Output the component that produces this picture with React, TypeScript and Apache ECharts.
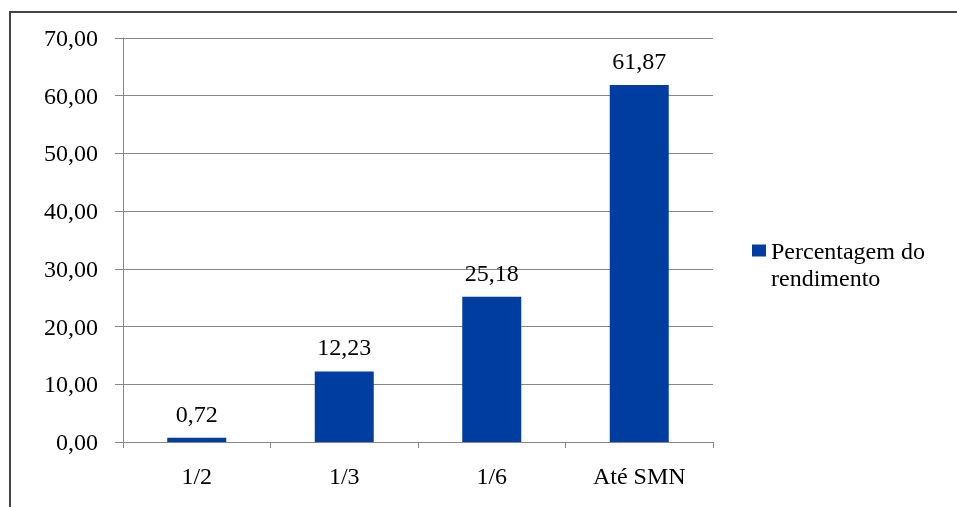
import React, { useEffect, useRef } from "react";
import * as echarts from "echarts";

const categories = ["1/2", "1/3", "1/6", "Até SMN"];
const values = [0.72, 12.23, 25.18, 61.87];
const seriesName = "Percentagem do rendimento";
const yMin = 0;
const yMax = 70;
const yInterval = 10;

const fmt = (v: number) => v.toFixed(2).replace(".", ",");

export default function App() {
  const ref = useRef<HTMLDivElement>(null);
  useEffect(() => {
    if (!ref.current) return;
    const chart = echarts.init(ref.current, null, { renderer: "svg" });
    const font = "Liberation Serif";
    const fs = 24;
    chart.setOption({
      animation: false,
      grid: { left: 123, right: 244, top: 38, bottom: 65 },
      legend: {
        left: 752,
        top: 237,
        padding: 0,
        orient: "vertical",
        itemWidth: 14,
        itemHeight: 39,
        icon: "path://M0,0H14V12H0Z M0,39 L14,39",
        data: [seriesName],
        formatter: () => "Percentagem do\nrendimento",
        textStyle: {
          fontFamily: font,
          fontSize: fs,
          color: "#000",
          lineHeight: 27,
        },
      },
      xAxis: {
        type: "category",
        data: categories,
        axisLine: { lineStyle: { color: "#868686", width: 1 } },
        axisTick: { show: true, alignWithLabel: false, length: 6, lineStyle: { color: "#868686" } },
        axisLabel: { color: "#000", fontSize: fs, fontFamily: font, margin: 22 },
      },
      yAxis: {
        type: "value",
        min: yMin,
        max: yMax,
        interval: yInterval,
        axisLine: { show: true, lineStyle: { color: "#868686", width: 1 } },
        axisTick: { show: true, inside: false, length: 8, lineStyle: { color: "#868686" } },
        splitLine: { show: true, lineStyle: { color: "#868686", width: 1 } },
        axisLabel: {
          color: "#000",
          fontSize: fs,
          fontFamily: font,
          margin: 25,
          formatter: (v: number) => fmt(v),
        },
      },
      series: [
        {
          name: seriesName,
          type: "bar",
          data: values,
          barWidth: "40%",
          itemStyle: { color: "#003DA0" },
          label: {
            show: true,
            position: "top",
            distance: 12,
            color: "#000",
            fontSize: fs,
            fontFamily: font,
            formatter: (p: any) => fmt(p.value),
          },
        },
      ],
      graphic: [
        {
          type: "line",
          shape: { x1: 9, y1: 12, x2: 957, y2: 12 },
          style: { stroke: "#444", lineWidth: 2 },
          z: 100,
        },
        {
          type: "line",
          shape: { x1: 10, y1: 11, x2: 10, y2: 507 },
          style: { stroke: "#444", lineWidth: 2 },
          z: 100,
        },
      ],
    });
    return () => chart.dispose();
  }, []);
  return (
    <div
      ref={ref}
      style={{ position: "fixed", left: 0, top: 0, width: 957, height: 507 }}
    />
  );
}
